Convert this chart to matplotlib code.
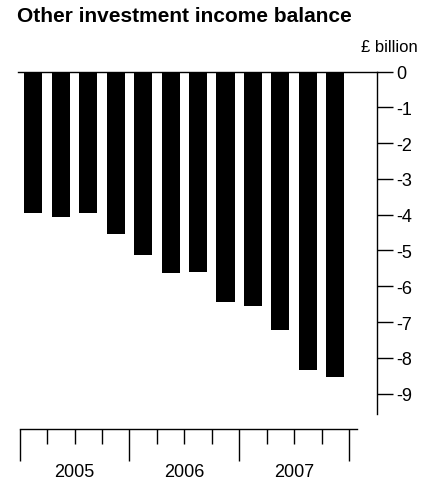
import matplotlib
matplotlib.use('Agg')
import matplotlib.pyplot as plt

plt.rcParams['font.family'] = ['Liberation Sans', 'DejaVu Sans']

# quarterly balance, 2005 Q1 .. 2007 Q4 (£ billion)
values = [-3.94, -4.06, -3.94, -4.54, -5.14, -5.62, -5.61, -6.43, -6.54, -7.21, -8.33, -8.53]
years = ['2005', '2006', '2007']
y_ticks = [0, -1, -2, -3, -4, -5, -6, -7, -8, -9]
y_labels = ['0', '-1', '-2', '-3', '-4', '-5', '-6', '-7', '-8', '-9']

W, H = 435, 485
fig = plt.figure(figsize=(W / 100, H / 100), dpi=100)

# main bar area: left 18px, right axis at 377px, zero at 72.5px, bottom 415px
ax = fig.add_axes([18 / W, 1 - 415 / H, (377 - 18) / W, (415 - 72.5) / H])
xs = list(range(len(values)))
ax.bar(xs, values, width=0.66, color='black', zorder=2)
ax.set_xlim(-0.56, 12.52)
ax.set_ylim(-9.57, 0)

for s in ['left', 'bottom']:
    ax.spines[s].set_visible(False)
for s in ['top', 'right']:
    ax.spines[s].set_linewidth(1.0)
ax.set_xticks([])
ax.yaxis.tick_right()
ax.set_yticks(y_ticks)
ax.set_yticklabels(y_labels)
ax.tick_params(axis='y', direction='out', length=11.5, width=1.0, pad=2.5, labelsize=13)

fig.text(418 / W, 1 - 48 / H, '£ billion', ha='right', va='center', fontsize=12)
fig.text(17 / W, 1 - 16 / H, 'Other investment income balance', ha='left', va='center',
         fontsize=15, fontweight='bold')

# quarter axis underneath
ax2 = fig.add_axes([18 / W, 1 - 430 / H, (377 - 18) / W, 0.001])
ax2.set_xlim(-0.56, 12.52)
ax2.set_ylim(0, 1)
for s in ['left', 'right', 'top']:
    ax2.spines[s].set_visible(False)
ax2.spines['bottom'].set_bounds(-0.5, 11.8)
ax2.spines['bottom'].set_linewidth(1.0)
ax2.set_yticks([])
ax2.set_xticks([-0.5, 3.5, 7.5, 11.5])
ax2.set_xticks([0.5, 1.5, 2.5, 4.5, 5.5, 6.5, 8.5, 9.5, 10.5], minor=True)
ax2.set_xticklabels([])
ax2.tick_params(axis='x', which='major', direction='out', length=23, width=1.0)
ax2.tick_params(axis='x', which='minor', direction='out', length=10.8, width=1.0)
for i, yr in enumerate(years):
    ax2.annotate(yr, xy=(1.5 + 4 * i, 0), xycoords=('data', 'axes fraction'),
                 xytext=(0, -30.6), textcoords='offset points', ha='center', va='center', fontsize=13)

fig.savefig('out.png', dpi=100)
